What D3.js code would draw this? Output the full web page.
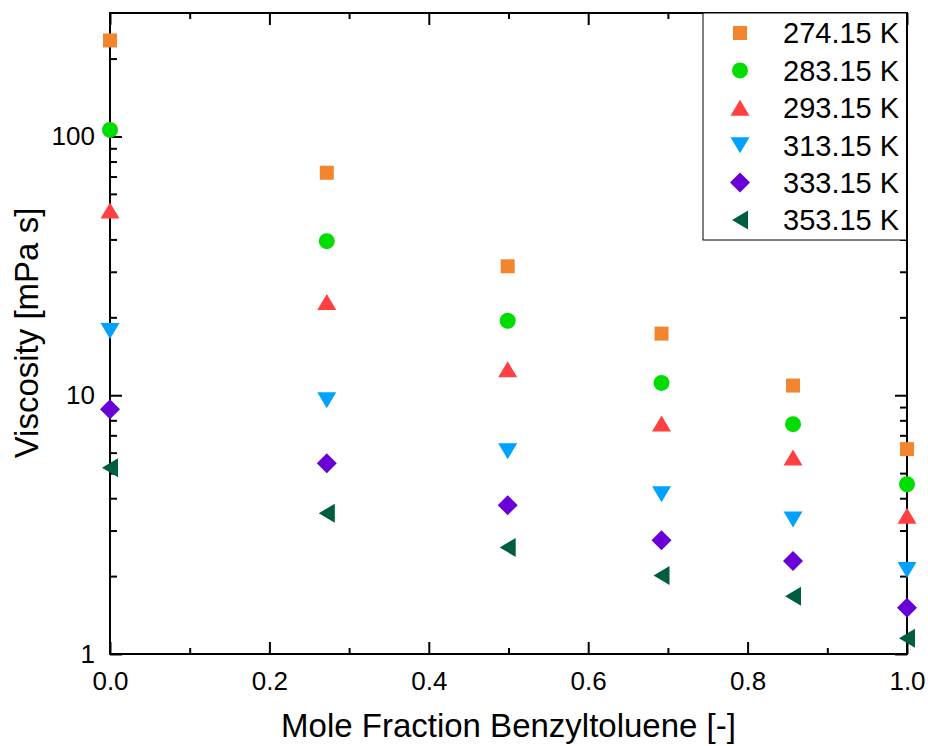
<!DOCTYPE html>
<html>
<head>
<meta charset="utf-8">
<script src="https://cdn.jsdelivr.net/npm/d3@7"></script>
<style>
  html, body { margin: 0; padding: 0; background: #fff; }
  svg { display: block; font-family: "Liberation Sans", Arial, sans-serif; }
</style>
</head>
<body>
<svg id="chart" width="928" height="746"></svg>
<script>
// ---- data ----
const xValues = [0.0, 0.272, 0.499, 0.692, 0.857, 1.0];
const seriesNames = ["274.15 K", "283.15 K", "293.15 K", "313.15 K", "333.15 K", "353.15 K"];
const v274 = [235, 72.4, 31.5, 17.3, 10.9, 6.19];
const v283 = [106, 39.4, 19.4, 11.16, 7.73, 4.53];
const v293 = [51.8, 22.9, 12.6, 7.78, 5.75, 3.42];
const v313 = [17.7, 9.56, 6.08, 4.14, 3.31, 2.11];
const v333 = [8.83, 5.46, 3.76, 2.75, 2.29, 1.51];
const v353 = [5.24, 3.50, 2.58, 2.01, 1.67, 1.15];
const xTickLabels = ["0.0", "0.2", "0.4", "0.6", "0.8", "1.0"];
const yTickLabels = ["1", "10", "100"];
const xTitle = "Mole Fraction Benzyltoluene [-]";
const yTitle = "Viscosity [mPa s]";

const allSeries = [v274, v283, v293, v313, v333, v353];
const colors = ["#F2852D", "#00DD00", "#FF4040", "#00A2FF", "#6A00D8", "#005E3C"];
const shapes = ["square", "circle", "up", "down", "diamond", "left"];

function shapePath(kind) {
  const p = d3.path();
  if (kind === "square") { p.rect(-7, -7, 14, 14); }
  else if (kind === "circle") { p.arc(0, 0, 8, 0, 2 * Math.PI); }
  else if (kind === "up") { p.moveTo(0, -8); p.lineTo(9.5, 8); p.lineTo(-9.5, 8); p.closePath(); }
  else if (kind === "down") { p.moveTo(0, 8); p.lineTo(9.5, -8); p.lineTo(-9.5, -8); p.closePath(); }
  else if (kind === "diamond") { p.moveTo(0, -10); p.lineTo(10, 0); p.lineTo(0, 10); p.lineTo(-10, 0); p.closePath(); }
  else if (kind === "left") { p.moveTo(-8, 0); p.lineTo(8, -9.5); p.lineTo(8, 9.5); p.closePath(); }
  return p.toString();
}

// ---- layout ----
const L = 110, R = 907, T = 13, B = 654;
const svg = d3.select("#chart");
const x = d3.scaleLinear().domain([0, 1]).range([L, R]);
const y = d3.scaleLog().domain([1, 300]).range([B, T]);

const majorX = xTickLabels.map(Number);
const minorX = [0.1, 0.3, 0.5, 0.7, 0.9];
const majorY = yTickLabels.map(Number);
const minorY = [];
[1, 10, 100].forEach(d => { for (let k = 2; k <= 9; k++) { const v = d * k; if (v < 300) minorY.push(v); } });

function styleAxis(g) {
  g.select(".domain").remove();
  g.selectAll(".tick line").attr("stroke", "#000").attr("stroke-width", 2);
  g.selectAll("text").attr("fill", "#000").attr("font-size", 26);
}

// bottom
svg.append("g").attr("transform", `translate(0,${B})`)
  .call(d3.axisBottom(x).tickValues(majorX).tickSize(-12).tickPadding(18).tickFormat((d, i) => xTickLabels[i]))
  .call(styleAxis);
svg.append("g").attr("transform", `translate(0,${B})`)
  .call(d3.axisBottom(x).tickValues(minorX).tickSize(-6).tickFormat(""))
  .call(styleAxis);
// top
svg.append("g").attr("transform", `translate(0,${T})`)
  .call(d3.axisTop(x).tickValues(majorX).tickSize(-12).tickFormat(""))
  .call(styleAxis);
svg.append("g").attr("transform", `translate(0,${T})`)
  .call(d3.axisTop(x).tickValues(minorX).tickSize(-6).tickFormat(""))
  .call(styleAxis);
// left
svg.append("g").attr("transform", `translate(${L},0)`)
  .call(d3.axisLeft(y).tickValues(majorY).tickSize(-12).tickPadding(15).tickFormat((d, i) => yTickLabels[i]))
  .call(styleAxis);
svg.append("g").attr("transform", `translate(${L},0)`)
  .call(d3.axisLeft(y).tickValues(minorY).tickSize(-7).tickFormat(""))
  .call(styleAxis);
// right
svg.append("g").attr("transform", `translate(${R},0)`)
  .call(d3.axisRight(y).tickValues(majorY).tickSize(-12).tickFormat(""))
  .call(styleAxis);
svg.append("g").attr("transform", `translate(${R},0)`)
  .call(d3.axisRight(y).tickValues(minorY).tickSize(-7).tickFormat(""))
  .call(styleAxis);

// frame
svg.append("rect").attr("x", L).attr("y", T).attr("width", R - L).attr("height", B - T)
  .attr("fill", "none").attr("stroke", "#000").attr("stroke-width", 2);

// points
allSeries.forEach((vals, si) => {
  svg.append("g").selectAll("path").data(vals).join("path")
    .attr("d", shapePath(shapes[si]))
    .attr("fill", colors[si])
    .attr("transform", (d, i) => `translate(${x(xValues[i])},${y(d)})`);
});

// legend
const lg = svg.append("g");
lg.append("rect").attr("x", 703).attr("y", T).attr("width", R - 703).attr("height", 240 - T)
  .attr("fill", "#fff").attr("stroke", "#000").attr("stroke-width", 1);
seriesNames.forEach((name, i) => {
  const cy = 33 + i * 37.4;
  lg.append("path").attr("d", shapePath(shapes[i])).attr("fill", colors[i])
    .attr("transform", `translate(740,${cy})`);
  lg.append("text").attr("x", 783).attr("y", cy).attr("dy", "0.36em")
    .attr("font-size", 29).attr("fill", "#000").text(name);
});
// right axis line over legend
svg.append("line").attr("x1", R).attr("x2", R).attr("y1", T).attr("y2", 240)
  .attr("stroke", "#000").attr("stroke-width", 2);

// titles
svg.append("text").attr("x", (L + R) / 2).attr("y", 737).attr("text-anchor", "middle")
  .attr("font-size", 33).attr("fill", "#000").text(xTitle);
svg.append("text").attr("transform", `translate(38,333) rotate(-90)`).attr("text-anchor", "middle")
  .attr("font-size", 33).attr("fill", "#000").text(yTitle);
</script>
</body>
</html>
